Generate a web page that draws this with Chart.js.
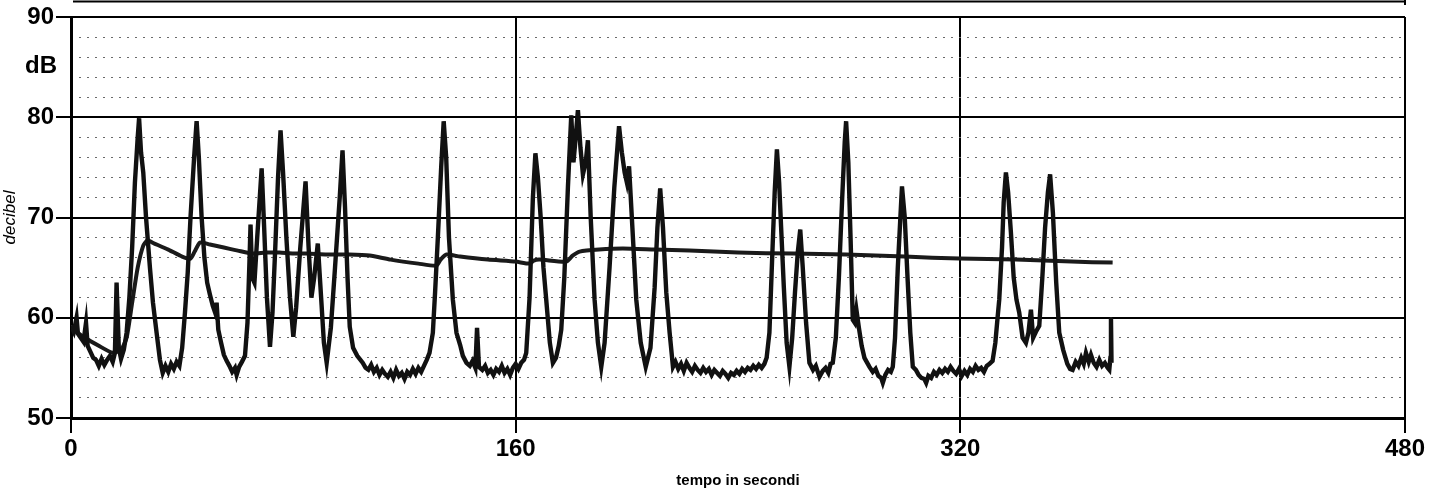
<!DOCTYPE html>
<html><head><meta charset="utf-8">
<script src="https://cdn.jsdelivr.net/npm/chart.js@4.4.1/dist/chart.umd.min.js"></script>
<style>html,body{margin:0;padding:0;background:#fff;overflow:hidden}#wrap{width:1442px;height:490px}</style>
</head><body><div id="wrap"><canvas id="c" width="1442" height="490"></canvas></div>
<script>
// ---- data ----
const traceTimes = [0,1,2,2.5,3.5,4.5,5.4,6,7,8,9,10,11,12,13,14,15,15.8,16.4,17.2,18,19,20,21,22,23,24,24.5,25.2,26,27,28.4,29.5,30.8,32,33,34,35,36,37,38,39,40,41,42,43,44.3,45.2,46,47,48,49,50,51,52,52.4,53,54,55,56,57,58,59,59.6,60.5,61.5,62.6,63.5,64.2,64.6,65.2,66,67,68.6,69.5,70.5,71.6,72.5,73.5,74.5,75.4,76.3,77.5,78.8,80,81,82.5,84.4,85.5,86.5,87.5,88.8,90,91,92,93.5,95,96.7,97.7,98.6,99.5,100.3,101.5,103,105,106,107,108,109,110,111,112,113,114,115,116,117,118,119,120,121,122,123,124,125,126,127,128,129,130.2,131,132,133.2,134.1,135,136,137.4,138.7,140,141,142.3,143.5,144.5,145.5,146.1,146.8,148,149,150,151,152,153,154,155,156,157,158,159,160,161,162,163,163.8,165,166.2,167.1,168,169,170,171,172.3,173.4,174.5,175.5,176.4,177.5,178.8,180,180.8,181.6,182.4,183.3,184.2,185.2,186,187,188.4,189.6,190.8,192,193.8,195.5,197.2,198.2,199.2,200,200.8,202,203.4,205,206.8,208.5,210,211,212,213,214.2,215.4,216.6,217.5,218.5,219.5,220.5,221.5,222.5,223.5,224.5,225.5,226.5,227.5,228.5,229.5,230.5,231.5,232.5,233.5,234.5,235.5,236.5,237.5,238.5,239.5,240.5,241.5,242.5,243.5,244.5,245.5,246.5,247.5,248.5,249.5,250.3,251.3,252.3,253.2,254,254.8,255.5,256.5,257.5,258.5,259.5,260.5,261.5,262.4,263.3,264.5,265.7,267,268,269.3,270.5,271.5,272.5,273.3,274.1,275.2,276.3,277.5,278.4,278.9,279.7,280.5,281.3,282,282.6,283.5,284.5,285.5,286.5,287.3,288.5,289.5,290.5,291.5,292.1,293,294,295,295.7,296.5,297.5,299,300,301,302,302.9,304,305,306,307,307.7,308.5,309.5,310.5,311.5,312.5,313.5,314.5,315.5,316.5,317.5,318.5,319.5,320.5,321.5,322.5,323.5,324.5,325.5,326.5,327.5,328.5,329.5,330.5,331.6,332.6,333.4,334,335,335.6,336.4,337.2,338.2,339.2,340.2,341.2,342.4,343.6,344.5,345.4,346.2,347.2,348.4,349.5,350.5,351.5,352.3,353.3,354.5,355.6,357,358.5,359.5,360.4,361.5,362.5,363.5,364.4,365.2,366.2,367,368,369,370,371,372,373,373.6,374,374.2,374.4];
const traceDb = [59.2,58.6,60.0,58.4,58.0,57.6,59.5,57.2,56.6,56.0,55.8,55.2,55.9,55.3,55.8,56.2,55.6,56.5,63.5,57.0,55.9,56.8,58.5,62.0,67.0,73.5,78.0,79.9,76.5,74.5,70.0,65.0,61.5,58.5,55.8,54.5,55.2,54.6,55.4,54.9,55.6,55.2,57.0,60.5,64.5,70.0,76.0,79.6,76.0,70.0,66.0,63.5,62.3,61.2,60.4,61.5,58.8,57.5,56.3,55.7,55.2,54.6,55.0,54.3,55.1,55.6,56.2,59.5,65.5,69.3,64.0,63.5,68.0,74.9,69.0,62.0,57.1,60.5,67.0,74.0,78.7,74.5,68.0,62.0,58.1,61.0,67.0,73.6,67.0,62.0,64.0,67.4,62.0,57.5,55.5,59.0,65.0,72.0,76.7,71.0,64.0,59.1,57.0,56.2,55.5,55.0,54.8,55.3,54.6,55.0,54.3,54.8,54.4,54.1,54.6,54.0,54.8,54.2,54.5,53.9,54.6,54.3,54.9,54.4,55.0,54.6,55.2,55.8,56.5,58.5,62.5,68.0,75.0,79.6,76.0,68.0,61.8,58.5,57.3,56.2,55.5,55.2,55.7,55.0,59.0,55.1,54.8,55.2,54.5,54.8,54.3,54.9,54.6,55.2,54.5,54.9,54.3,55.0,55.4,54.9,55.5,55.8,56.5,62.0,72.0,76.4,74.0,70.0,65.0,61.8,57.5,55.5,56.0,57.2,58.8,64.0,73.0,80.2,75.5,78.0,80.7,77.0,74.3,75.5,77.7,70.0,61.8,57.5,55.1,57.5,65.1,73.0,79.1,76.5,74.5,73.5,75.1,69.0,61.8,57.5,55.1,57.0,63.0,69.0,72.9,69.0,62.5,58.5,55.1,55.6,54.9,55.4,54.7,55.5,55.0,54.6,55.2,54.8,54.5,55.0,54.6,54.9,54.3,54.8,54.5,54.2,54.7,54.4,54.0,54.5,54.3,54.7,54.4,54.9,54.6,55.0,54.8,55.2,54.9,55.3,55.0,55.4,56.0,58.5,66.0,72.5,76.8,73.5,69.1,63.0,57.5,55.1,58.0,62.5,66.5,68.8,65.0,59.5,55.5,54.8,55.2,54.1,54.7,55.0,54.5,55.4,55.5,58.0,64.0,72.0,77.5,79.6,75.5,68.0,59.8,59.5,60.8,59.0,57.2,56.0,55.5,55.1,54.6,54.9,54.2,54.0,53.5,54.3,54.8,54.6,55.1,58.0,65.0,73.1,70.0,64.0,58.5,55.1,54.8,54.3,54.0,53.9,53.5,54.2,54.0,54.6,54.3,54.8,54.5,54.9,54.6,55.1,54.7,54.4,54.9,54.2,54.7,54.3,54.9,54.6,55.2,54.8,55.0,54.6,55.2,55.4,55.7,57.5,60.0,61.8,67.0,71.5,74.5,72.5,68.5,64.0,61.8,60.5,58.0,57.5,58.5,60.8,58.0,58.6,59.2,64.0,69.0,72.5,74.3,70.5,63.5,58.5,56.8,55.4,54.9,54.8,55.6,55.2,56.0,55.4,56.5,55.6,56.3,55.5,55.1,55.8,55.2,55.5,55.0,54.8,56.0,60.0,55.5];
const leqTimes = [0,5,10,15,18,20,22,24,26,27.5,30,35,40,43,44.5,46.4,50,55,60,65.5,70,75,80,85,92,100,107.5,115,125,131.5,133,135.1,140,150,160,165,166.5,168.6,178.2,180.5,183,190,198.6,210,222.6,240,260,278.9,300,319.7,340,360,374.8];
const leqDb = [59.0,58.0,57.2,56.5,56.8,58.0,61.5,65.0,67.2,67.7,67.4,66.8,66.1,65.9,66.6,67.5,67.3,67.0,66.7,66.4,66.5,66.5,66.4,66.4,66.3,66.3,66.2,65.8,65.4,65.2,65.8,66.3,66.1,65.8,65.6,65.4,65.7,65.8,65.6,66.2,66.6,66.8,66.9,66.8,66.7,66.5,66.4,66.3,66.1,65.9,65.8,65.6,65.5];
const xTicks = [0,160,320,480];
const yTicks = [50,60,70,80,90];
const yMinorTicks = [52,54,56,58,62,64,66,68,72,74,76,78,82,84,86,88];
const unitLabel = 'dB';
const unitLabelValue = 85.1;

const toPts = (xs, ys) => xs.map((x, i) => ({x: x, y: ys[i]}));
const FONT = '"Liberation Sans", Arial, sans-serif';

const extras = {
  id: 'extras',
  afterDraw(chart) {
    const ctx = chart.ctx, ca = chart.chartArea, ys = chart.scales.y;
    ctx.save();
    ctx.fillStyle = '#000';
    ctx.font = 'bold 24px ' + FONT;
    ctx.textAlign = 'right';
    ctx.textBaseline = 'middle';
    ctx.fillText(unitLabel, ca.left - 14, ys.getPixelForValue(unitLabelValue));
    // fragment of the box above the chart
    ctx.strokeStyle = '#000';
    ctx.lineWidth = 2;
    ctx.beginPath();
    ctx.moveTo(ca.left + 2, 1.5); ctx.lineTo(ca.right, 1.5);
    ctx.moveTo(ca.right, 0); ctx.lineTo(ca.right, 5);
    ctx.stroke();
    ctx.restore();
  }
};

new Chart(document.getElementById('c'), {
  type: 'line',
  data: {
    datasets: [
      {data: toPts(traceTimes, traceDb), borderColor: '#111111', borderWidth: 4.4, pointRadius: 0, tension: 0, xAxisID: 'x', yAxisID: 'y'},
      {data: toPts(traceTimes, traceDb), borderColor: '#a0a0a0', borderWidth: 1.5, pointRadius: 0, tension: 0, xAxisID: 'x', yAxisID: 'y'},
      {data: toPts(leqTimes, leqDb), borderColor: '#1a1a1a', borderWidth: 4, pointRadius: 0, tension: 0.2, xAxisID: 'x', yAxisID: 'y'}
    ]
  },
  options: {
    responsive: false,
    animation: false,
    devicePixelRatio: 1,
    layout: {padding: {top: 17, right: 37, left: 0, bottom: 0}},
    plugins: {legend: {display: false}, tooltip: {enabled: false}},
    scales: {
      x: {
        type: 'linear', min: 0, max: 480, position: 'bottom',
        afterBuildTicks: s => { s.ticks = xTicks.map(v => ({value: v})); },
        afterFit: s => { s.height = 72; },
        grid: {color: '#000', lineWidth: 2, tickLength: 15, tickColor: '#000', tickWidth: 2},
        border: {color: '#000', width: 3},
        ticks: {color: '#000', font: {family: FONT, size: 24, weight: 'bold'}, padding: 2, maxRotation: 0, autoSkip: false},
        title: {display: true, text: 'tempo in secondi', color: '#000', font: {family: FONT, size: 15, weight: 'bold'}, padding: {top: 4, bottom: 0}}
      },
      y: {
        type: 'linear', min: 50, max: 90, position: 'left',
        afterBuildTicks: s => { s.ticks = yTicks.map(v => ({value: v})); },
        afterFit: s => { s.width = 71; },
        grid: {color: '#000', lineWidth: 2, tickLength: 15, tickColor: '#000', tickWidth: 2},
        border: {color: '#000', width: 3},
        ticks: {color: '#000', font: {family: FONT, size: 24, weight: 'bold'}, padding: 2},
        title: {display: true, text: 'decibel', color: '#000', font: {family: FONT, size: 17, style: 'italic'}, padding: {top: 0, bottom: 0}}
      },
      yMinor: {
        type: 'linear', min: 50, max: 90, position: 'left', weight: -1,
        afterBuildTicks: s => { s.ticks = yMinorTicks.map(v => ({value: v})); },
        afterFit: s => { s.width = 0; },
        grid: {color: '#6a6a6a', lineWidth: 1, drawTicks: false},
        border: {display: false, dash: [2, 6]},
        ticks: {display: false}
      }
    }
  },
  plugins: [extras]
});
</script>
</body></html>
